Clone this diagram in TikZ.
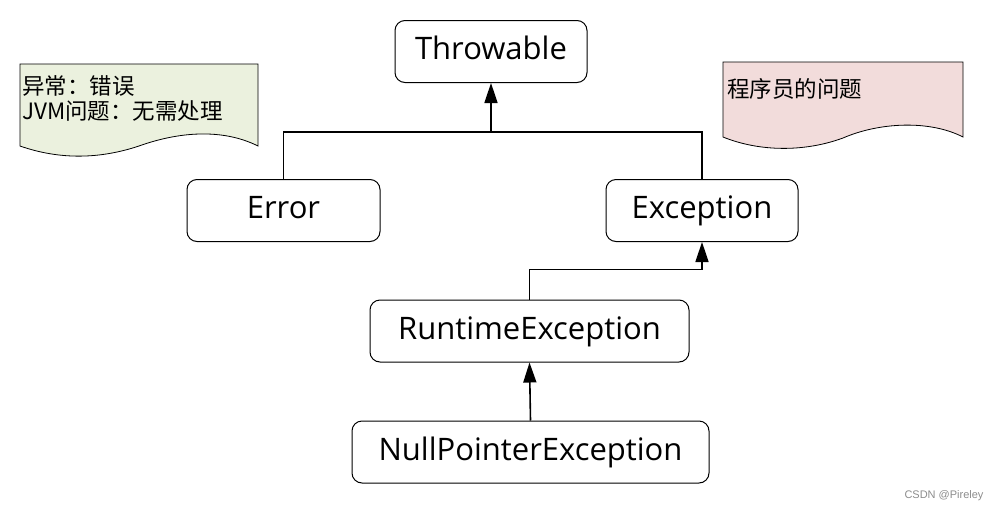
\documentclass[tikz,border=0pt]{standalone}
\usepackage{fontspec}
\setmainfont{Open Sans}
\newfontfamily\cjk{Noto Sans CJK SC}
\newfontfamily\wmfont{Liberation Sans}
\usetikzlibrary{arrows.meta,positioning}
\definecolor{notegreen}{HTML}{EBF1DE}
\definecolor{notepink}{HTML}{F2DCDB}
\tikzset{%
	classbox/.style = {draw, rectangle, rounded corners=10pt, line width=1pt, minimum height=62pt, inner sep=0pt, text height=23pt, text depth=7pt, text centered, font=\fontsize{31}{34}\selectfont},
	arrow/.style    = {line width=1.6pt, -{Triangle[length=20pt,width=13pt]}},
	link/.style     = {line width=1.6pt},
	notetext/.style = {anchor=north west, inner sep=0pt, align=left, font=\cjk\fontsize{22.5}{25}\selectfont},
}
\begin{document}
\begin{tikzpicture}[x=1pt,y=-1pt]
	\useasboundingbox (0,0) rectangle (1002,512);
	
	% notes
	\draw[fill=notegreen, line width=0.8pt] (20,64) -- (258,64) -- (258,146) .. controls (222,128) and (178,132) .. (139,146) .. controls (100,159) and (60,160) .. (20,146) -- cycle;
	\draw[fill=notepink, line width=0.8pt] (723,62) -- (963,62) -- (963,137) .. controls (930,120) and (880,122) .. (843,138) .. controls (805,152) and (760,152) .. (723,137) -- cycle;
	\node[notetext] (errnote) at (22,75) {异常：错误\\JVM问题：无需处理};
	\node[notetext] (excnote) at (727,78) {程序员的问题};
	
	% classes
	\node[classbox, minimum width=192pt] (thr) at (491,51.5) {Throwable};
	\node[classbox, minimum width=193pt] (err) at (283.5,210.5) {Error};
	\node[classbox, minimum width=192pt] (exc) at (702,210.5) {Exception};
	\node[classbox, minimum width=319pt] (rte) at (529.5,331) {RuntimeException};
	\node[classbox, minimum width=357pt] (npe) at (530.5,452) {NullPointerException};
	
	% inheritance
	\coordinate (split) at (491,132);
	\draw[link] (err.north) |- (split) -| (exc.north);
	\draw[arrow] (split) -- (thr.south);
	\draw[arrow] (rte.north) -- ++(0,-30) -| (exc.south);
	\draw[arrow] (npe.north) -- (rte.south);
	
	\node[text=black!45, font=\wmfont\fontsize{11}{13}\selectfont] (mark) at (944,496) {CSDN @Pireley};
\end{tikzpicture}
\end{document}
